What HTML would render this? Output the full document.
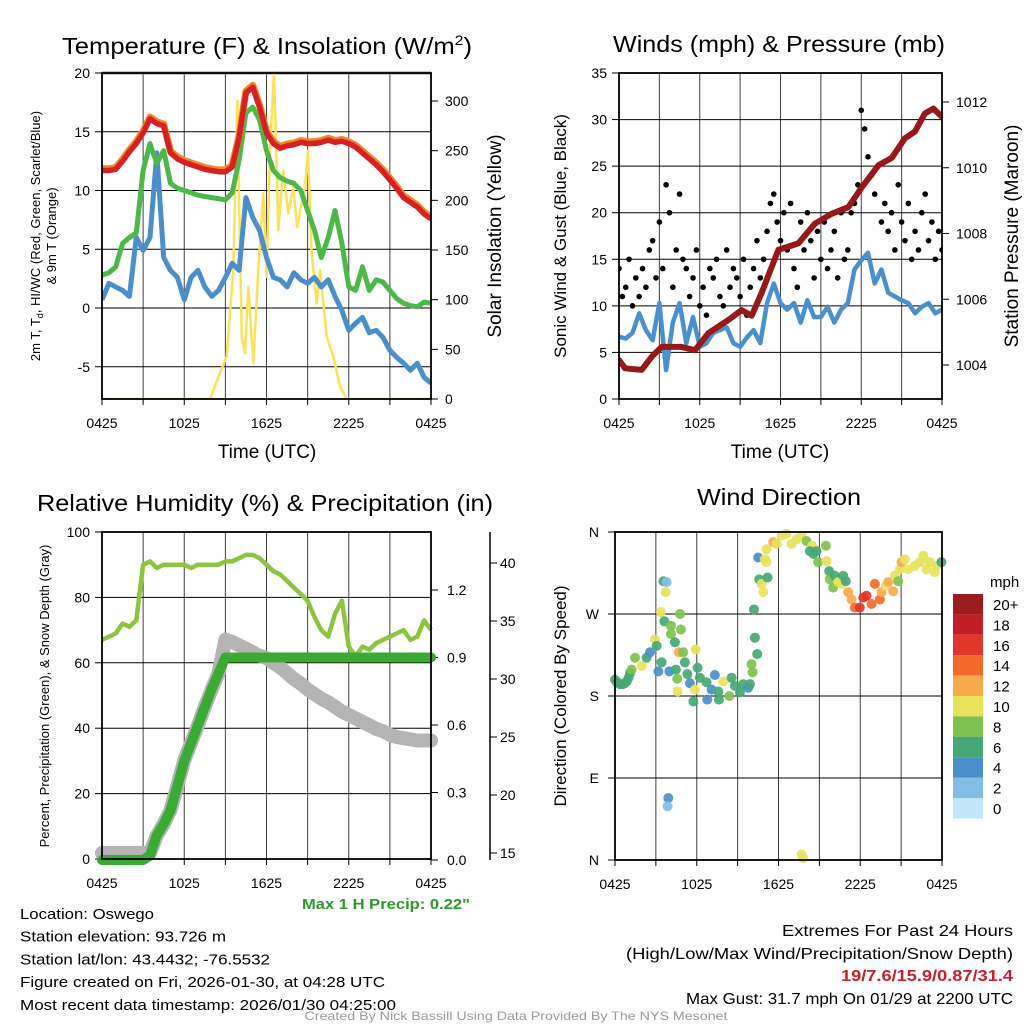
<!DOCTYPE html>
<html><head><meta charset="utf-8"><style>
body{margin:0;background:#fff}
svg{display:block;font-family:"Liberation Sans Narrow","Liberation Sans",sans-serif}
</style></head><body>
<svg id="s" width="1024" height="1024" viewBox="0 0 1024 1024" xmlns="http://www.w3.org/2000/svg">
<rect width="1024" height="1024" fill="#fff"/>
</svg>
<script>
// ---------- DATA ----------
const halfHours = [];
for (let i = 0; i <= 48; i++) halfHours.push(i * 0.5);
const xTickLabels = ["0425","1025","1625","2225","0425"];
const tempTicks = [20,15,10,5,0,-5];
const solarTicks = [0,50,100,150,200,250,300];
const tempRed = [11.7,11.7,11.8,12.5,13.3,14.0,14.9,16.1,15.7,15.5,13.2,12.7,12.4,12.2,12.0,11.8,11.7,11.6,11.6,12.0,14.5,18.3,18.8,17.1,14.9,14.0,13.6,13.8,13.9,14.1,14.0,14.0,14.1,14.3,14.1,14.2,14.0,13.7,13.2,12.7,12.2,11.6,10.9,10.2,9.4,9.0,8.6,8.0,7.6];
const tempGreen = [2.8,3.0,3.5,5.5,6.0,6.4,11.7,14.0,12.3,13.4,10.6,10.2,10.0,9.8,9.6,9.5,9.4,9.3,9.2,9.8,12.6,16.6,17.1,16.0,13.4,11.7,11.1,10.8,10.6,10.0,8.3,6.6,4.3,6.0,8.3,5.5,1.8,1.5,3.5,1.5,2.4,2.2,1.5,0.8,0.4,0.2,0.1,0.5,0.4];
const tempBlue = [0.7,2.1,1.8,1.5,1.0,6.0,4.9,6.0,13.2,4.3,3.2,2.6,0.7,2.6,3.2,1.8,1.0,1.5,2.6,3.8,3.2,9.4,7.7,6.6,4.3,2.6,2.4,1.8,3.0,2.4,2.1,2.6,1.8,2.4,1.0,-0.2,-1.9,-1.3,-0.8,-2.1,-1.9,-2.5,-3.6,-4.2,-4.7,-5.3,-4.7,-5.9,-6.4];
const solarTimes = [0,7.88,8.6,9.1,9.58,9.87,10.19,10.43,10.67,11.04,11.4,11.77,12.01,12.25,12.55,12.86,13.22,13.59,13.95,14.25,14.56,14.8,15.03,15.29,15.66,15.9,16.39,16.87,17.36,17.85,24];
const solarVals = [0,0,26,43,130,300,63,46,113,36,130,207,123,247,330,170,230,187,213,173,197,213,250,147,96,130,63,43,13,0,0];

const windTicks = [0,5,10,15,20,25,30,35];
const presTicks = [1004,1006,1008,1010,1012];
const windSpeed = [6.7,6.5,7.1,9.2,7.4,6.3,10.3,3.1,8.2,10.3,6.0,8.8,5.6,6.0,7.1,7.4,7.7,6.0,5.6,6.6,7.4,6.0,10.3,12.4,10.3,9.6,10.3,8.2,10.6,8.8,8.8,9.9,8.2,9.6,10.3,13.9,14.9,15.7,12.4,13.9,11.4,11.0,10.6,10.3,9.2,9.9,10.3,9.2,9.6];
const gustVals = [14,11,12,15,10,13,11,14,12,16,17,13,19,14,23,20,12,16,22,15,14,11,13,16,10,12,9,14,13,15,11,10,16,12,14,13,11,15,9,12,14,17,13,15,18,21,22,19,17,20,16,21,14,12,19,16,20,17,13,18,15,19,14,16,18,13,20,15,16,20,21,23,31,29,26,24,22,25,19,21,18,20,16,23,19,17,21,15,18,16,20,22,17,19,15,18,16];
const presTimes = [0,0.45,1.68,2.43,3.17,4.65,5.65,6.64,8.12,9.11,9.86,10.6,11.84,13.32,14.56,15.8,17.04,18.03,19.27,20.26,21.25,21.99,22.73,23.35,24];
const presVals = [1004.15,1003.9,1003.85,1004.25,1004.55,1004.55,1004.45,1004.97,1005.37,1005.67,1005.5,1006.2,1007.5,1007.7,1008.3,1008.6,1008.8,1009.4,1010.07,1010.3,1010.9,1011.1,1011.65,1011.8,1011.55];

const rhTicks = [0,20,40,60,80,100];
const precipTicks = ["0.0","0.3","0.6","0.9","1.2"];
const snowTicks = [15,20,25,30,35,40];
const rhVals = [67,68,69,72,71,73,90,91,89,90,90,90,90,89,90,90,90,90,91,91,92,93,93,92,90,88,87,85,83,81,79,74,70,68,75,79,65,62,65,64,66,67,68,69,70,67,68,73,70];
const precipVals = [0,0,0,0,0,0,0,0.02,0.11,0.16,0.22,0.33,0.44,0.52,0.6,0.68,0.76,0.83,0.9,0.9,0.9,0.9,0.9,0.9,0.9,0.9,0.9,0.9,0.9,0.9,0.9,0.9,0.9,0.9,0.9,0.9,0.9,0.9,0.9,0.9,0.9,0.9,0.9,0.9,0.9,0.9,0.9,0.9,0.9];
const snowVals = [15,15,15,15,15,15,15,15,16.5,17.5,18.7,20.8,23,24.5,26,27.6,29.1,30.5,33.4,33.2,32.9,32.6,32.3,32.0,31.8,31.4,31.0,30.5,30.0,29.6,29.1,28.7,28.3,28.0,27.6,27.2,26.9,26.6,26.3,26.0,25.7,25.5,25.2,25.0,24.9,24.8,24.7,24.7,24.7];

const dirTickLabels = ["N","E","S","W","N"];
const dirTimes = [0,0.15,0.37,0.55,0.7,0.86,1.0,1.1,1.22,1.47,1.96,2.32,2.57,2.93,3.06,3.18,3.42,3.55,3.79,3.72,3.37,3.62,4.11,4.77,4.84,4.11,4.40,4.69,5.01,3.99,4.47,4.57,5.13,5.31,5.50,4.60,5.75,5.92,5.87,6.06,6.23,6.72,6.77,7.09,7.33,7.63,7.58,7.95,8.39,8.56,8.80,9.17,9.41,9.78,9.90,10.02,10.10,10.44,10.27,10.20,10.59,10.76,10.88,11.20,10.51,11.00,11.12,11.12,11.61,11.86,12.22,12.59,12.96,13.33,13.69,14.06,14.47,14.30,14.55,14.91,14.79,15.48,15.53,15.72,15.77,16.01,16.14,16.38,16.63,16.75,16.94,17.11,17.36,17.60,17.97,18.22,18.46,18.83,19.07,19.44,19.56,19.88,20.05,20.42,20.54,20.78,20.90,21.03,21.27,21.52,22.0,22.37,22.62,22.86,23.1,23.47,23.59,23.96,3.91,3.86,13.69,13.81];
const dirVals = [198,195,193,193,194,196,200,205,209,222,213,222,228,242,235,207,217,306,305,294,272,262,257,270,253,248,239,228,228,207,209,199,217,204,194,185,174,231,187,211,200,195,176,187,203,176,185,196,180,200,191,184,193,189,193,215,206,226,244,275,308,303,294,310,332,330,327,341,349,347,356,358,347,352,356,350,345,339,336,327,339,345,328,317,308,299,312,305,303,312,306,294,286,277,277,288,290,281,303,286,294,301,305,295,312,306,319,327,330,319,323,327,334,319,327,316,323,327,68,59,6,2];
const dirSpeeds = [6,6,6,6,6,6,6,6,8,8,10,6,4,10,6,4,6,6,2,10,10,6,8,8,8,8,6,12,8,4,6,8,6,6,4,10,6,10,10,6,6,6,4,4,4,6,6,10,8,6,6,6,6,4,6,8,8,6,6,6,6,10,10,6,4,10,10,10,12,10,10,10,10,10,10,8,10,6,6,8,6,8,10,6,8,8,6,10,10,6,6,12,12,14,16,16,16,14,14,14,12,10,12,12,10,8,10,12,10,10,10,10,10,10,10,10,10,6,4,2,10,10];
const cbLabels = ["20+","18","16","14","12","10","8","6","4","2","0"];
const cbColors = ["#9b1b1e","#c01f26","#e0362b","#f26a2b","#f8a94a","#e8e35a","#7dc24e","#45a874","#4a8fc9","#82bde6","#c2e6f9"];

// ---------- HELPERS ----------
const NS = "http://www.w3.org/2000/svg";
const svg = document.getElementById('s');
function mk(tag, attrs, parent) {
  const e = document.createElementNS(NS, tag);
  for (const k in attrs) e.setAttribute(k, attrs[k]);
  (parent || svg).appendChild(e);
  return e;
}
function txt(x, y, s, size, anchor, parent, extra) {
  const t = mk('text', Object.assign({x: x, y: y, 'font-size': size, 'text-anchor': anchor || 'middle', fill: '#000'}, extra || {}), parent);
  t.textContent = s;
  return t;
}
function lin(d0, d1, r0, r1) { return v => r0 + (v - d0) * (r1 - r0) / (d1 - d0); }
function pathD(xs, ys, fx, fy) {
  return xs.map((t, i) => (i ? 'L' : 'M') + fx(t).toFixed(1) + ',' + fy(ys[i]).toFixed(1)).join('');
}
function frame(g, L, T, R, B) {
  mk('rect', {x: L, y: T, width: R - L, height: B - T, fill: 'none', stroke: '#000', 'stroke-width': 1.8}, g);
}
function xAxis(g, L, R, B, T) {
  const fx = lin(0, 24, L, R);
  for (let h = 0; h <= 24; h += 3) {
    mk('line', {x1: fx(h), y1: T, x2: fx(h), y2: B, stroke: '#000', 'stroke-width': 1, 'stroke-opacity': 0.75}, g);
    mk('line', {x1: fx(h), y1: B, x2: fx(h), y2: B + 6, stroke: '#000', 'stroke-width': 1}, g);
  }
  xTickLabels.forEach((s, i) => {
    const t = txt(fx(i * 6), B + 29, s, 14, 'middle', g);
    
    
  });
  return fx;
}

// ---------- PANEL 1 ----------
const g1 = mk('g', {});


(function () {
  const L = 102, R = 431, T = 73, B = 399;
  const fy = lin(0, 20, 308, 73);
  const fs = lin(0, 300, 399, 101);
  const fx = xAxis(g1, L, R, B, T);
  tempTicks.forEach(v => {
    mk('line', {x1: L, y1: fy(v), x2: R, y2: fy(v), stroke: '#000', 'stroke-width': 1}, g1);
    mk('line', {x1: L - 7, y1: fy(v), x2: L, y2: fy(v), stroke: '#000'}, g1);
    const t = txt(L - 12, fy(v) + 5, String(v), 14, 'end', g1);
    
    
  });
  mk('line', {x1: L, y1: 73, x2: R, y2: 73, stroke: '#888', 'stroke-width': 3}, g1);
  solarTicks.forEach(v => {
    mk('line', {x1: R, y1: fs(v), x2: R + 7, y2: fs(v), stroke: '#000'}, g1);
    const t = txt(R + 14, fs(v) + 5, String(v), 14, 'start', g1);
    
    
  });
  const clip = mk('clipPath', {id: 'c1'}, g1);
  mk('rect', {x: L, y: T, width: R - L, height: B - T}, clip);
  const pg = mk('g', {'clip-path': 'url(#c1)'}, g1);
  const so = mk('path', {d: pathD(solarTimes, solarVals, fx, fs), fill: 'none', stroke: '#fde15a', 'stroke-width': 2.5, 'stroke-linejoin': 'round'}, pg);
  
  
  const bl = mk('path', {d: pathD(halfHours, tempBlue, fx, fy), fill: 'none', stroke: '#4a8fc9', 'stroke-width': 5, 'stroke-linejoin': 'round'}, pg);
  
  
  const gr = mk('path', {d: pathD(halfHours, tempGreen, fx, fy), fill: 'none', stroke: '#4cb848', 'stroke-width': 5, 'stroke-linejoin': 'round'}, pg);
  
  
  const orr = mk('path', {d: pathD(halfHours, tempRed.map(v => v + 0.15), fx, fy), fill: 'none', stroke: '#f08a24', 'stroke-width': 7, 'stroke-linejoin': 'round'}, pg);
  
  
  const rd = mk('path', {d: pathD(halfHours, tempRed, fx, fy), fill: 'none', stroke: '#d62026', 'stroke-width': 5.5, 'stroke-linejoin': 'round'}, pg);
  
  
  frame(g1, L, T, R, B);
  const t1 = txt(267, 54, '', 23, 'middle', g1, {textLength: 410, lengthAdjust: 'spacingAndGlyphs'});
  t1.innerHTML = 'Temperature (F) &amp; Insolation (W/m<tspan dy="-9" font-size="14">2</tspan><tspan dy="9">)</tspan>';
  
  
  const xl = txt(267, 458, 'Time (UTC)', 19, 'middle', g1);
  
  
  const yl = mk('text', {transform: 'translate(40,236) rotate(-90)', 'font-size': 13, 'text-anchor': 'middle'}, g1);
  yl.innerHTML = '2m T, T<tspan font-size="9" dy="3">d</tspan><tspan dy="-3">, HI/WC (Red, Green, Scarlet/Blue)</tspan>';
  
  
  const yl2 = mk('text', {transform: 'translate(56,236) rotate(-90)', 'font-size': 13, 'text-anchor': 'middle'}, g1);
  yl2.textContent = '& 9m T (Orange)';
  
  
  const yr = mk('text', {transform: 'translate(501,236) rotate(-90)', 'font-size': 19, 'text-anchor': 'middle'}, g1);
  yr.textContent = 'Solar Insolation (Yellow)';
  
  
})();

// ---------- PANEL 2 ----------
const g2 = mk('g', {});


(function () {
  const L = 619, R = 942, T = 73, B = 399;
  const fy = lin(0, 35, 399, 73);
  const fp = lin(1004, 1012, 365, 102);
  const fx = xAxis(g2, L, R, B, T);
  windTicks.forEach(v => {
    mk('line', {x1: L, y1: fy(v), x2: R, y2: fy(v), stroke: '#000', 'stroke-width': 1}, g2);
    mk('line', {x1: L - 7, y1: fy(v), x2: L, y2: fy(v), stroke: '#000'}, g2);
    const t = txt(L - 12, fy(v) + 5, String(v), 14, 'end', g2);
    
    
  });
  presTicks.forEach(v => {
    mk('line', {x1: R, y1: fp(v), x2: R + 7, y2: fp(v), stroke: '#000'}, g2);
    const t = txt(R + 14, fp(v) + 5, String(v), 14, 'start', g2);
    
    
  });
  const clip = mk('clipPath', {id: 'c2'}, g2);
  mk('rect', {x: L, y: T, width: R - L, height: B - T}, clip);
  const pg = mk('g', {'clip-path': 'url(#c2)'}, g2);
  const w = mk('path', {d: pathD(halfHours, windSpeed, fx, fy), fill: 'none', stroke: '#4a90cc', 'stroke-width': 4.5, 'stroke-linejoin': 'round'}, pg);
  
  
  gustVals.forEach((v, i) => {
    const c = mk('circle', {cx: fx(i * 0.25), cy: fy(v), r: 2.8, fill: '#000'}, pg);
    
    
  });
  const p = mk('path', {d: pathD(presTimes, presVals, fx, fp), fill: 'none', stroke: '#961818', 'stroke-width': 6, 'stroke-linejoin': 'round', 'stroke-linecap': 'round'}, pg);
  
  
  frame(g2, L, T, R, B);
  const t2 = txt(779, 52, 'Winds (mph) & Pressure (mb)', 23, 'middle', g2, {textLength: 332, lengthAdjust: 'spacingAndGlyphs'});
  
  
  const xl = txt(780, 458, 'Time (UTC)', 19, 'middle', g2);
  
  
  const yl = mk('text', {transform: 'translate(566,236) rotate(-90)', 'font-size': 17, 'text-anchor': 'middle'}, g2);
  yl.textContent = 'Sonic Wind & Gust (Blue, Black)';
  
  
  const yr = mk('text', {transform: 'translate(1018,236) rotate(-90)', 'font-size': 19, 'text-anchor': 'middle'}, g2);
  yr.textContent = 'Station Pressure (Maroon)';
  
  
})();

// ---------- PANEL 3 ----------
const g3 = mk('g', {});


(function () {
  const L = 102, R = 431, T = 532, B = 859;
  const fy = lin(0, 100, 859, 532);
  const fpr = lin(0, 1.2, 860, 590);
  const fsn = lin(15, 40, 853, 563);
  const fx = xAxis(g3, L, R, B, T);
  rhTicks.forEach(v => {
    mk('line', {x1: L, y1: fy(v), x2: R, y2: fy(v), stroke: '#000', 'stroke-width': 1}, g3);
    mk('line', {x1: L - 7, y1: fy(v), x2: L, y2: fy(v), stroke: '#000'}, g3);
    const t = txt(L - 12, fy(v) + 5, String(v), 14, 'end', g3);
    
    
  });
  precipTicks.forEach(s => {
    const v = parseFloat(s);
    mk('line', {x1: R, y1: fpr(v), x2: R + 7, y2: fpr(v), stroke: '#000'}, g3);
    const t = txt(R + 16, fpr(v) + 5, s, 14, 'start', g3);
    
    
  });
  mk('line', {x1: 490, y1: 532, x2: 490, y2: 860, stroke: '#000', 'stroke-width': 1.5}, g3);
  snowTicks.forEach(v => {
    mk('line', {x1: 490, y1: fsn(v), x2: 497, y2: fsn(v), stroke: '#000'}, g3);
    const t = txt(500, fsn(v) + 5, String(v), 14, 'start', g3);
    
    
  });
  const clip = mk('clipPath', {id: 'c3'}, g3);
  mk('rect', {x: L - 8, y: T, width: R - L + 16, height: B - T + 8}, clip);
  const pg = mk('g', {'clip-path': 'url(#c3)'}, g3);
  const sn = mk('path', {d: pathD(halfHours, snowVals, fx, fsn), fill: 'none', stroke: '#b4b4b4', 'stroke-width': 14, 'stroke-linejoin': 'round', 'stroke-linecap': 'round'}, pg);
  
  
  const rh = mk('path', {d: pathD(halfHours, rhVals, fx, fy), fill: 'none', stroke: '#8cc63f', 'stroke-width': 4.5, 'stroke-linejoin': 'round'}, pg);
  
  
  const pr = mk('path', {d: pathD(halfHours, precipVals, fx, fpr), fill: 'none', stroke: '#3aaa35', 'stroke-width': 10, 'stroke-linejoin': 'round', 'stroke-linecap': 'round'}, pg);
  
  
  frame(g3, L, T, R, B);
  const t3 = txt(265, 511, 'Relative Humidity (%) & Precipitation (in)', 23, 'middle', g3, {textLength: 456, lengthAdjust: 'spacingAndGlyphs'});
  
  
  const yl = mk('text', {transform: 'translate(49,696) rotate(-90)', 'font-size': 13, 'text-anchor': 'middle'}, g3);
  yl.textContent = 'Percent, Precipitation (Green), & Snow Depth (Gray)';
  
  
  const mp = txt(386, 909, 'Max 1 H Precip: 0.22"', 15, 'middle', g3, {fill: '#2e9a2a', 'font-weight': 'bold', textLength: 168, lengthAdjust: 'spacingAndGlyphs'});
  
  
})();

// ---------- PANEL 4 ----------
const g4 = mk('g', {});


(function () {
  const L = 615, R = 942, T = 532, B = 860;
  const fy = lin(0, 360, 860, 532);
  const fx = xAxis(g4, L, R, B, T);
  dirTickLabels.forEach((s, i) => {
    const v = i * 90;
    mk('line', {x1: L, y1: fy(v), x2: R, y2: fy(v), stroke: '#000', 'stroke-width': 1}, g4);
    mk('line', {x1: L - 7, y1: fy(v), x2: L, y2: fy(v), stroke: '#000'}, g4);
    const t = txt(L - 16, fy(v) + 5, s, 14, 'end', g4);
    
    
  });
  function colorFor(s) { let b = Math.min(10, Math.floor(s / 2)); return cbColors[10 - b]; }
  dirTimes.forEach((t, i) => {
    const c = mk('circle', {cx: fx(t), cy: fy(dirVals[i]), r: 5, fill: colorFor(dirSpeeds[i]), 'fill-opacity': 0.92}, g4);
    
    
  });
  frame(g4, L, T, R, B);
  const t4 = txt(779, 505, 'Wind Direction', 23, 'middle', g4, {textLength: 164, lengthAdjust: 'spacingAndGlyphs'});
  
  
  const yl = mk('text', {transform: 'translate(566,696) rotate(-90)', 'font-size': 17, 'text-anchor': 'middle'}, g4);
  yl.textContent = 'Direction (Colored By Speed)';
  
  
  const cb = mk('g', {}, g4);
  
  
  const u = txt(990, 587, 'mph', 15, 'start', cb);
  
  
  cbLabels.forEach((s, i) => {
    const r = mk('rect', {x: 953, y: 594 + i * 20.4, width: 30, height: 20.4, fill: cbColors[i]}, cb);
    
    
    const t = txt(993, 594 + i * 20.4 + 16, s, 15, 'start', cb);
    
    
  });
})();

// ---------- FOOTER ----------
const info = mk('g', {});


const leftLines = [["Location: Oswego",134],["Station elevation: 93.726 m",206],["Station lat/lon: 43.4432; -76.5532",250],["Figure created on Fri, 2026-01-30, at 04:28 UTC",365],["Most recent data timestamp: 2026/01/30 04:25:00",376]];
leftLines.forEach((l, i) => {
  const t = txt(20, 919 + i * 22.7, l[0], 15, 'start', info, {textLength: l[1], lengthAdjust: 'spacingAndGlyphs'});
  
  
});
const ext = mk('g', {});


const rightLines = [["Extremes For Past 24 Hours",231,936,'#000','normal'],["(High/Low/Max Wind/Precipitation/Snow Depth)",387,959,'#000','normal'],["19/7.6/15.9/0.87/31.4",172,981,'#c8202a','bold'],["Max Gust: 31.7 mph On 01/29 at 2200 UTC",327,1004,'#000','normal']];
rightLines.forEach(l => {
  const t = txt(1013, l[2], l[0], 16, 'end', ext, {fill: l[3], 'font-weight': l[4], textLength: l[1], lengthAdjust: 'spacingAndGlyphs'});
  
  
});
const cr = txt(516, 1020, 'Created By Nick Bassill Using Data Provided By The NYS Mesonet', 12, 'middle', svg, {fill: '#999', textLength: 423, lengthAdjust: 'spacingAndGlyphs'});


</script>
</body></html>
